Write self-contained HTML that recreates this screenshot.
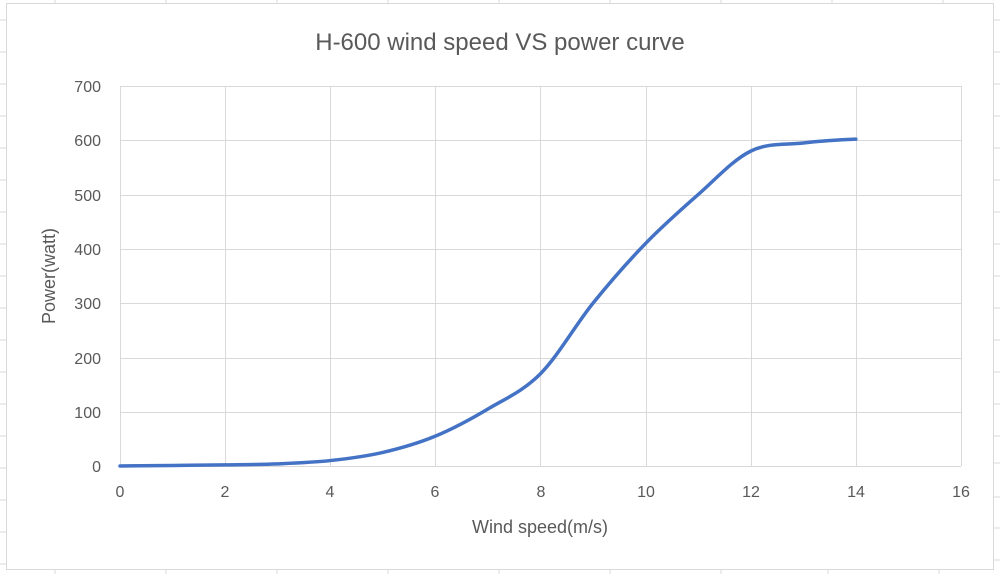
<!DOCTYPE html>
<html><head><meta charset="utf-8"><style>
body{margin:0;background:#fff;}
svg text{font-family:"Liberation Sans",sans-serif;fill:#595959;}
</style></head><body>
<svg width="1000" height="574" viewBox="0 0 1000 574" xmlns="http://www.w3.org/2000/svg">
<rect width="1000" height="574" fill="#fff"/>
<g stroke="#d9d9d9" stroke-width="1">
<line x1="0" y1="20" x2="6" y2="20"/><line x1="0" y1="52" x2="6" y2="52"/><line x1="0" y1="84" x2="6" y2="84"/>
<line x1="0" y1="116" x2="6" y2="116"/><line x1="0" y1="148" x2="6" y2="148"/><line x1="0" y1="180" x2="6" y2="180"/>
<line x1="0" y1="212" x2="6" y2="212"/><line x1="0" y1="244" x2="6" y2="244"/><line x1="0" y1="276" x2="6" y2="276"/>
<line x1="0" y1="308" x2="6" y2="308"/><line x1="0" y1="340" x2="6" y2="340"/><line x1="0" y1="372" x2="6" y2="372"/>
<line x1="0" y1="404" x2="6" y2="404"/><line x1="0" y1="436" x2="6" y2="436"/><line x1="0" y1="468" x2="6" y2="468"/>
<line x1="0" y1="500" x2="6" y2="500"/><line x1="0" y1="532" x2="6" y2="532"/><line x1="0" y1="564" x2="6" y2="564"/>
<line x1="994" y1="463" x2="1000" y2="463"/><line x1="994" y1="497" x2="1000" y2="497"/><line x1="994" y1="528" x2="1000" y2="528"/><line x1="994" y1="560" x2="1000" y2="560"/>
<line x1="994" y1="20" x2="1000" y2="20"/><line x1="994" y1="52" x2="1000" y2="52"/><line x1="994" y1="84" x2="1000" y2="84"/><line x1="994" y1="116" x2="1000" y2="116"/><line x1="994" y1="148" x2="1000" y2="148"/><line x1="994" y1="180" x2="1000" y2="180"/><line x1="994" y1="212" x2="1000" y2="212"/><line x1="994" y1="244" x2="1000" y2="244"/><line x1="994" y1="276" x2="1000" y2="276"/><line x1="994" y1="308" x2="1000" y2="308"/><line x1="994" y1="340" x2="1000" y2="340"/><line x1="994" y1="372" x2="1000" y2="372"/><line x1="994" y1="404" x2="1000" y2="404"/><line x1="994" y1="436" x2="1000" y2="436"/>
<line x1="55" y1="0" x2="55" y2="3"/><line x1="166" y1="0" x2="166" y2="3"/><line x1="277" y1="0" x2="277" y2="3"/><line x1="388" y1="0" x2="388" y2="3"/><line x1="499" y1="0" x2="499" y2="3"/><line x1="610" y1="0" x2="610" y2="3"/><line x1="721" y1="0" x2="721" y2="3"/><line x1="832" y1="0" x2="832" y2="3"/><line x1="943" y1="0" x2="943" y2="3"/>
<line x1="55" y1="570" x2="55" y2="574"/><line x1="166" y1="570" x2="166" y2="574"/><line x1="277" y1="570" x2="277" y2="574"/><line x1="388" y1="570" x2="388" y2="574"/><line x1="499" y1="570" x2="499" y2="574"/><line x1="610" y1="570" x2="610" y2="574"/><line x1="721" y1="570" x2="721" y2="574"/><line x1="828" y1="570" x2="828" y2="574"/><line x1="939" y1="570" x2="939" y2="574"/>
</g>
<rect x="6.5" y="3.5" width="987" height="566" fill="#fff" stroke="#d9d9d9"/>
<g stroke="#d9d9d9" stroke-width="1">
<line x1="120" y1="86.5" x2="961" y2="86.5"/><line x1="120" y1="140.5" x2="961" y2="140.5"/><line x1="120" y1="195.5" x2="961" y2="195.5"/><line x1="120" y1="249.5" x2="961" y2="249.5"/><line x1="120" y1="303.5" x2="961" y2="303.5"/><line x1="120" y1="358.5" x2="961" y2="358.5"/><line x1="120" y1="412.5" x2="961" y2="412.5"/><line x1="120" y1="466.5" x2="961" y2="466.5"/>
<line x1="120.5" y1="86" x2="120.5" y2="466"/><line x1="225.5" y1="86" x2="225.5" y2="466"/><line x1="330.5" y1="86" x2="330.5" y2="466"/><line x1="435.5" y1="86" x2="435.5" y2="466"/><line x1="540.5" y1="86" x2="540.5" y2="466"/><line x1="646.5" y1="86" x2="646.5" y2="466"/><line x1="751.5" y1="86" x2="751.5" y2="466"/><line x1="856.5" y1="86" x2="856.5" y2="466"/><line x1="961.5" y1="86" x2="961.5" y2="466"/>
</g>
<text x="500" y="50" font-size="24" text-anchor="middle">H-600 wind speed VS power curve</text>
<g font-size="16" text-anchor="end">
<text x="101" y="92">700</text><text x="101" y="146">600</text><text x="101" y="201">500</text><text x="101" y="255">400</text><text x="101" y="309">300</text><text x="101" y="364">200</text><text x="101" y="418">100</text><text x="101" y="472">0</text>
</g>
<g font-size="16" text-anchor="middle">
<text x="120" y="497">0</text><text x="225" y="497">2</text><text x="330" y="497">4</text><text x="435" y="497">6</text><text x="541" y="497">8</text><text x="646" y="497">10</text><text x="751" y="497">12</text><text x="856" y="497">14</text><text x="961" y="497">16</text>
</g>
<text x="540" y="533" font-size="18" text-anchor="middle">Wind speed(m/s)</text>
<text transform="translate(55,276) rotate(-90)" font-size="18" text-anchor="middle">Power(watt)</text>
<path fill="none" stroke="#4472c4" stroke-width="3.5" stroke-linecap="round" d="M120,466 C137.52,465.91 155.04,465.64 172.56,465.46 C190.08,465.28 207.6,465.18 225.12,464.91 C242.64,464.64 260.16,464.55 277.68,463.83 C295.2,463.11 312.72,462.47 330.24,460.57 C347.76,458.67 365.28,456.5 382.8,452.43 C400.32,448.36 417.84,443.38 435.36,436.14 C452.88,428.9 470.4,419.41 487.92,409 C505.44,398.6 522.96,391.35 540.48,373.71 C558,356.07 575.52,324.85 593.04,303.13 C610.56,281.41 628.08,261.51 645.6,243.41 C663.12,225.31 680.64,209.93 698.16,194.55 C715.68,179.17 733.2,159.72 750.72,151.12 C768.24,142.52 785.76,144.97 803.28,142.98 C820.8,140.99 838.32,139.81 855.84,139.18"/>
</svg>
</body></html>
